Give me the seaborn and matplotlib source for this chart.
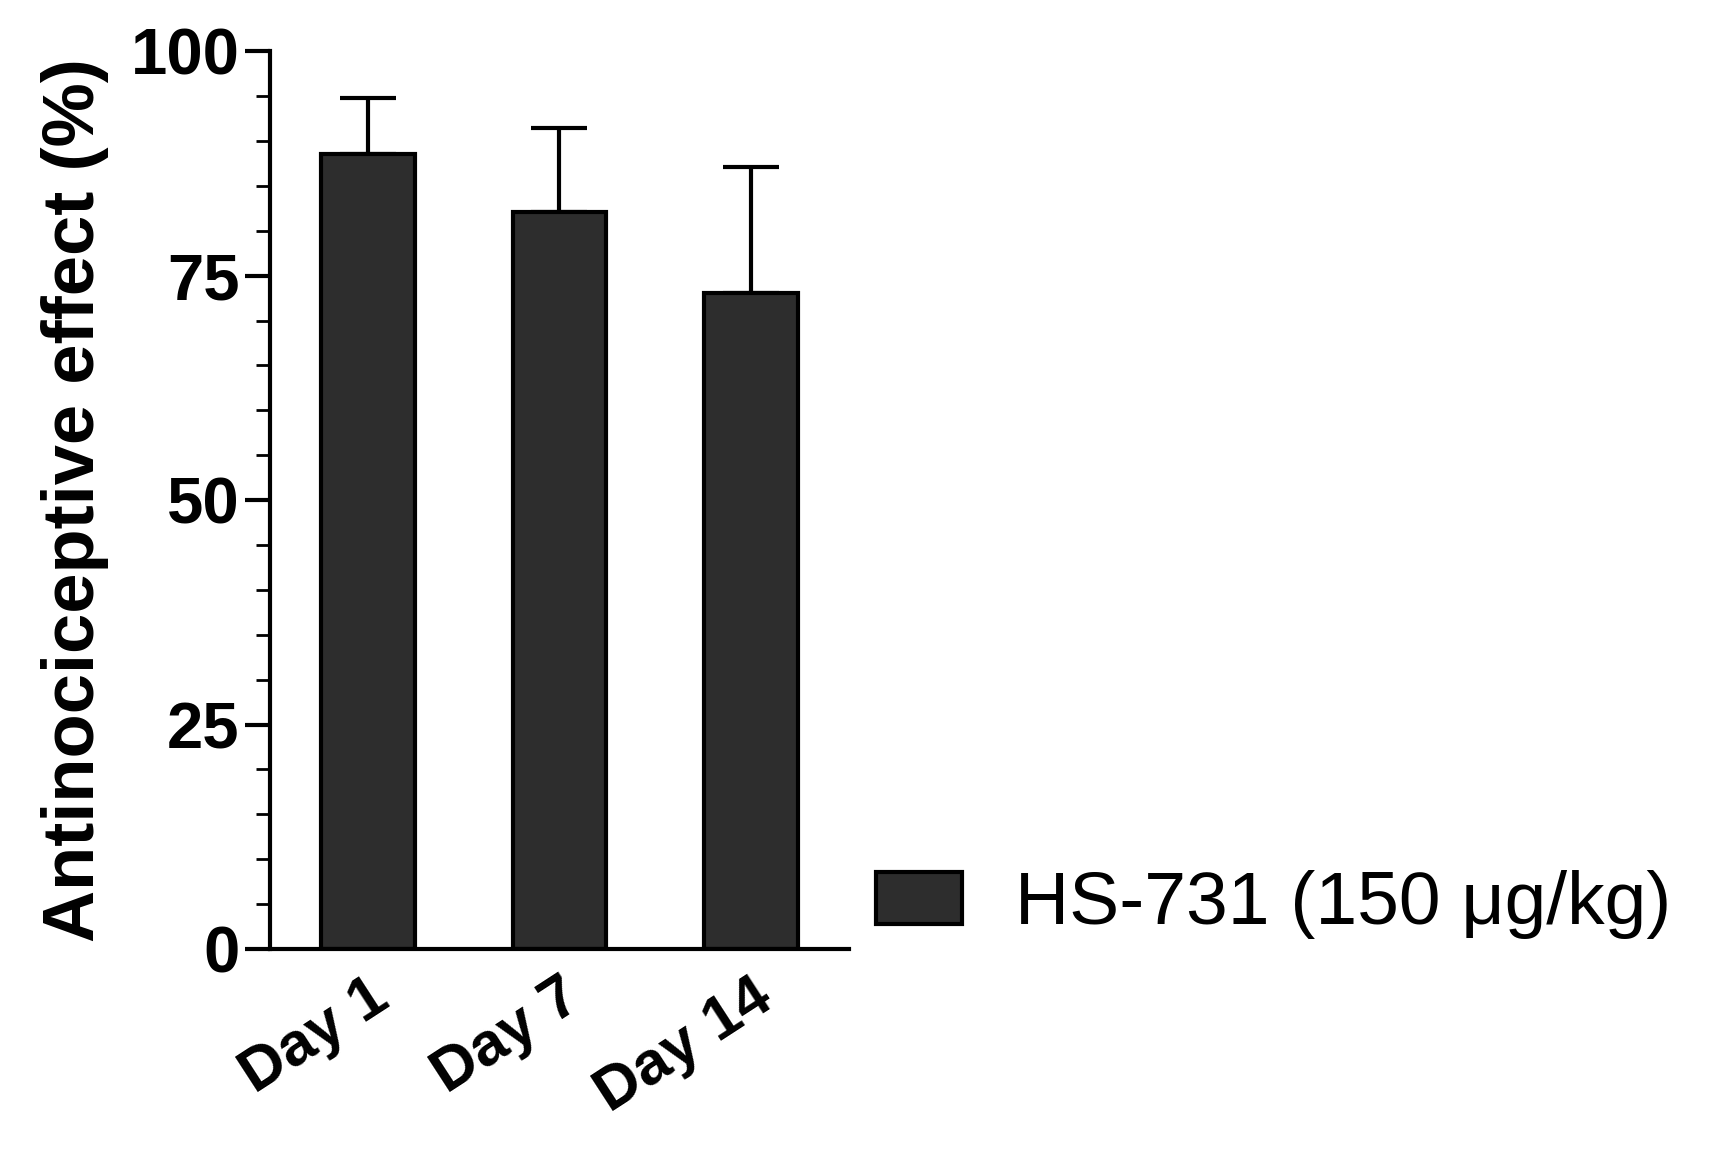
import matplotlib
matplotlib.use("Agg")
import matplotlib.pyplot as plt
import seaborn as sns
import pandas as pd
from matplotlib.ticker import MultipleLocator
from matplotlib.patches import Patch

days = ["Day 1", "Day 7", "Day 14"]
means = [88.5, 82.1, 73.1]
sems = [6.3, 9.3, 14.0]
series = "HS-731 (150 \u03bcg/kg)"

sns.set_style("ticks")
plt.rcParams['font.family'] = ['Liberation Sans', 'DejaVu Sans']
plt.rcParams['text.color'] = 'black'
plt.rcParams['axes.labelcolor'] = 'black'
plt.rcParams['xtick.color'] = 'black'
plt.rcParams['ytick.color'] = 'black'

fig = plt.figure(figsize=(17.11, 11.63), dpi=100)
ax = fig.add_axes([0.158, 0.184, 0.338, 0.772])
df = pd.DataFrame({"day": days, "val": means})
sns.barplot(data=df, x="day", y="val", color="#2d2d2d", width=0.49,
            edgecolor="black", linewidth=3, ax=ax, errorbar=None, saturation=1)
ax.errorbar(range(len(days)), means, yerr=[[0]*3, sems], fmt="none",
            ecolor="black", elinewidth=3, capsize=20, capthick=3, zorder=0.5)
ax.set_xlim(-0.51, 2.51)
ax.set_ylim(0, 100)
ax.yaxis.set_major_locator(MultipleLocator(25))
ax.yaxis.set_minor_locator(MultipleLocator(5))
sns.despine(ax=ax)
for s in ["left", "bottom"]:
    ax.spines[s].set_linewidth(3)
    ax.spines[s].set_color("black")
ax.tick_params(axis="y", which="major", width=3, length=18, labelsize=47, pad=4)
ax.tick_params(axis="y", which="minor", width=2, length=10)
ax.tick_params(axis="x", width=0, length=0, labelsize=44, pad=14)
for t in ax.get_yticklabels() + ax.get_xticklabels():
    t.set_fontweight("bold")
plt.setp(ax.get_xticklabels(), rotation=33, ha="right", rotation_mode="anchor")
ax.set_xlabel("")
ax.set_ylabel("Antinociceptive effect (%)", fontsize=52, fontweight="bold", labelpad=16)
fig.legend(handles=[Patch(facecolor="#2d2d2d", edgecolor="black", linewidth=3, label=series)],
           loc="center left", bbox_to_anchor=(0.512, 0.222), frameon=False,
           fontsize=54, handlelength=1.15, handleheight=0.67, handletextpad=0.7,
           borderpad=0, borderaxespad=0)
fig.savefig("out.png", dpi=100)
